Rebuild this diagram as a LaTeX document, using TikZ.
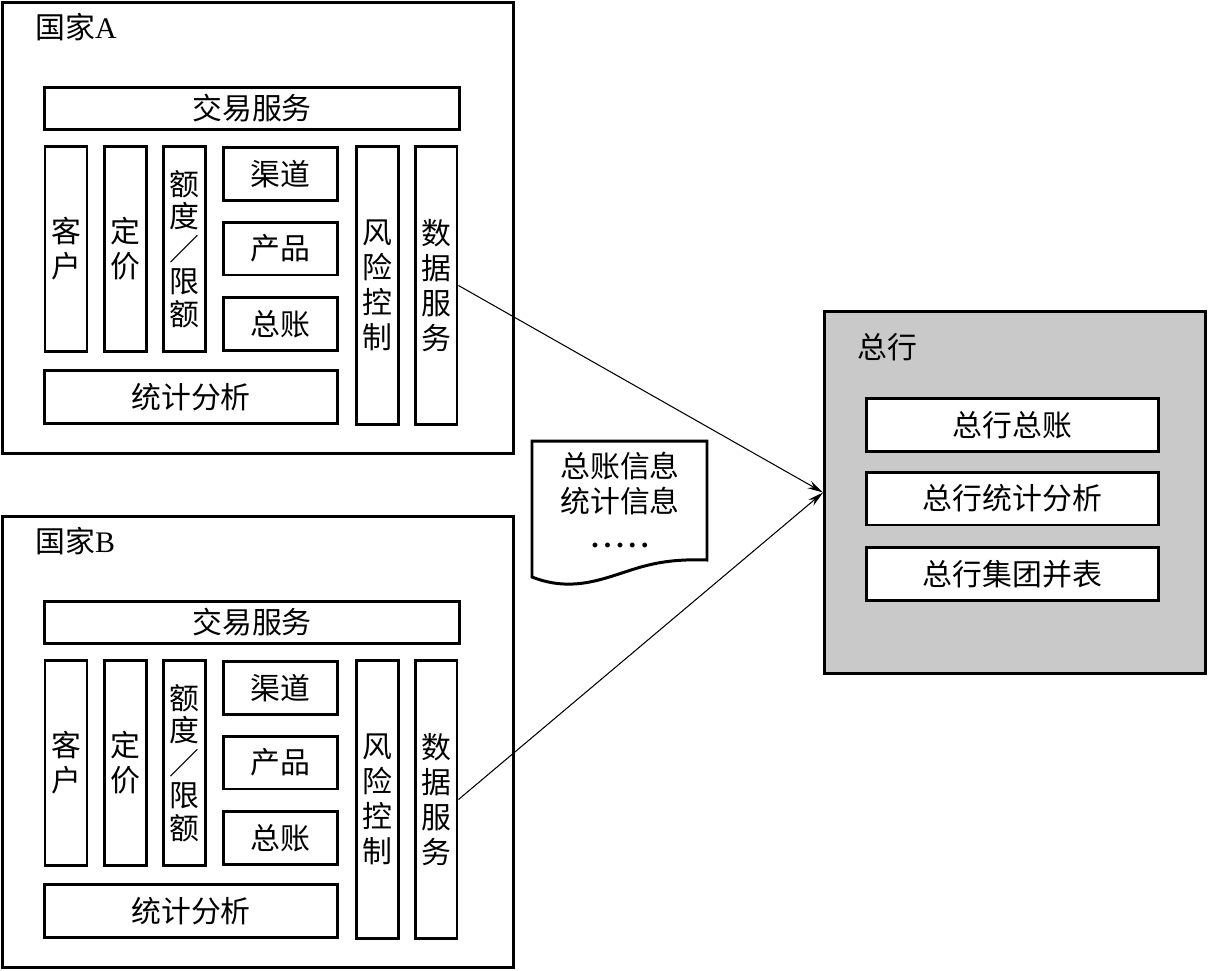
\documentclass[tikz,border=0pt]{standalone}
\usepackage{fontspec}
\setmainfont{Liberation Serif}
\newfontfamily\cjk{Noto Sans CJK SC}
\usetikzlibrary{arrows.meta}

\begin{document}
\begin{tikzpicture}[x=0.02cm, y=-0.02cm,
    box/.style={draw, line width=1.7pt, inner sep=0pt, align=center, fill=white,
                font=\cjk\fontsize{17}{20}\selectfont},
    widebox/.style={box, minimum width=8.3cm, minimum height=0.84cm},
    tallbox/.style={box, minimum width=0.84cm, minimum height=4.1cm},
    midbox/.style={box, minimum width=2.28cm, minimum height=1.06cm},
    longbox/.style={box, minimum width=0.84cm, minimum height=5.56cm},
    statbox/.style={box, minimum width=5.86cm, minimum height=1.06cm},
    hqbox/.style={box, minimum width=5.84cm, minimum height=1.06cm},
    title/.style={anchor=west, inner sep=0pt, font=\fontsize{17}{20}\selectfont},
    flow/.style={line width=0.6pt, -{Stealth[length=9pt, width=4.5pt]}}]
\useasboundingbox (0,0) rectangle (1208,971);

% country A
\node[box, minimum width=10.22cm, minimum height=9.02cm] (countryA) at (258,228) {};
\node[title] (titleA) at (35,27) {{\cjk 国家}A};
\node[widebox] (tradeA) at (252,108.5) {交易服务};
\node[tallbox] (clientA) at (66,249) {客\\户};
\node[tallbox] (priceA) at (125.5,249) {定\\价};
\node[tallbox, font=\cjk\fontsize{17}{18.5}\selectfont] (limitA) at (184.5,249) {额\\度\\／\\限\\额};
\node[midbox] (channelA) at (280.5,174) {渠道};
\node[midbox] (productA) at (280.5,248.5) {产品};
\node[midbox] (ledgerA) at (280.5,324) {总账};
\node[statbox] (statA) at (191,397) {统计分析};
\node[longbox] (riskA) at (377.5,285.5) {风\\险\\控\\制};
\node[longbox] (dataA) at (436,285.5) {数\\据\\服\\务};

% country B
\begin{scope}[shift={(0,514)}]
\node[box, minimum width=10.22cm, minimum height=9.02cm] (countryB) at (258,228) {};
\node[title] (titleB) at (35,27) {{\cjk 国家}B};
\node[widebox] (tradeB) at (252,108.5) {交易服务};
\node[tallbox] (clientB) at (66,249) {客\\户};
\node[tallbox] (priceB) at (125.5,249) {定\\价};
\node[tallbox, font=\cjk\fontsize{17}{18.5}\selectfont] (limitB) at (184.5,249) {额\\度\\／\\限\\额};
\node[midbox] (channelB) at (280.5,174) {渠道};
\node[midbox] (productB) at (280.5,248.5) {产品};
\node[midbox] (ledgerB) at (280.5,324) {总账};
\node[statbox] (statB) at (191,397) {统计分析};
\node[longbox] (riskB) at (377.5,285.5) {风\\险\\控\\制};
\node[longbox] (dataB) at (436,285.5) {数\\据\\服\\务};
\end{scope}

% head office
\node[box, fill=black!21, minimum width=7.62cm, minimum height=7.24cm] (hq) at (1015,492.5) {};
\node[title, font=\cjk\fontsize{17}{20}\selectfont] (hqtitle) at (857,347) {总行};
\node[hqbox] (hqledger) at (1012.5,425) {总行总账};
\node[hqbox] (hqstat) at (1012.5,498.5) {总行统计分析};
\node[hqbox] (hqgroup) at (1012.5,574) {总行集团并表};

% document
\draw[line width=1.7pt, fill=white] (532,577) -- (532,441) -- (707,441) -- (707,560)
  .. controls (675,559) and (655,562) .. (628,571)
  .. controls (600,580) and (570,592) .. (532,577) -- cycle;
\node[align=center, font=\cjk\fontsize{17}{20}\selectfont] (doc) at (620,500)
  {总账信息\\统计信息\\{\rmfamily\bfseries .\,.\,.\,.\,.}};

\draw[flow] (dataA.east) -- (hq.west);
\draw[flow] (dataB.east) -- (hq.west);
\end{tikzpicture}
\end{document}
